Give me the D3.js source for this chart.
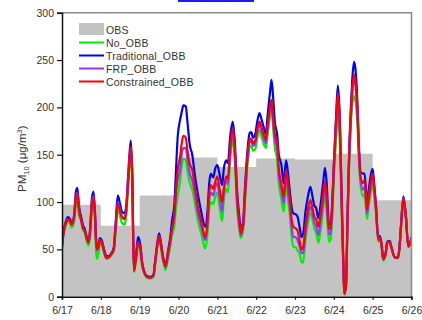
<!DOCTYPE html>
<html>
<head>
<meta charset="utf-8">
<script src="https://d3js.org/d3.v7.min.js"></script>
<style>
  html, body { margin: 0; padding: 0; background: #fff; }
  svg text { font-family: "Liberation Sans", Arial, sans-serif; fill: #333; }
</style>
</head>
<body>
<div id="chart"></div>
<script>
const width = 422;
const height = 320;

// day labels on the x axis, one per 24 h
const dayLabels = ['6/17','6/18','6/19','6/20','6/21','6/22','6/23','6/24','6/25','6/26'];
const yTicks = [0, 50, 100, 150, 200, 250, 300];

// daily observed PM10 (one value per day, step)
const obsDaily = [97, 75, 107, 147, 137, 146, 145, 151, 102];

// hours since 6/17 00:00 for the model series
const hours = [0,1,2.5,3.5,5,6,7.5,8.5,9.5,10.5,12,13,14,15.5,16.5,17.5,18.5,19.5,20.5,21,21.5,22.5,23.5,24.5,26,27.5,29,30.5,32,33,34.5,36,37,38.5,39.5,41,42.5,43.5,44,44.5,46,47,48.5,49.5,51,52.5,54.5,56.5,57.5,59,60,61,62.5,64,65.5,67,68,69.5,70.5,71.5,73,74,75,76.5,77.5,79,80.5,82,84,86,87.5,88.5,90,91,92,93.5,94.5,96,97.5,99,100,101.5,102.5,104,105.5,107,108,109.5,110.5,112,113,114.5,116,117,118,119.5,120.5,122,123.5,125,126,127,128.5,129.5,130.5,131.5,133,134,135.5,137,138.5,140,141,142,143,144.5,145.5,147,148,149,150.5,152,153.5,155,156,157,158.5,160,161.5,162.5,163.5,165,166,167,168,169.5,170.5,171.5,173,174,174.5,175.5,176.5,177.5,178.5,179.5,180.5,181.5,182.5,183.5,184.5,186,187,188.5,189.5,191,192,193,194,195.5,196.5,197.5,198.5,200,201,202.5,203.5,205.5,207.5,208.5,209.5,211,212.5,214,215,216];

const constrainedOBB = [52,68,78,82,80,76,84,103,108,92,80,72,70,60,57,72,98,104,82,60,50,52,60,58,48,41,42,45,50,70,98,90,84,82,88,125,158,120,60,27,45,58,50,35,25,21,20,22,35,55,64,56,40,32,45,60,72,88,115,134,148,162,170,168,155,140,134,118,95,80,68,63,82,110,118,114,120,127,112,100,114,127,124,160,178,150,110,80,67,76,105,145,166,167,162,165,175,185,178,170,166,180,200,208,190,172,162,135,120,106,134,115,100,80,74,72,70,58,50,52,75,92,102,92,84,82,74,90,110,122,108,72,72,95,137,190,215,190,90,25,3,12,85,150,192,222,235,225,200,155,127,120,123,92,105,123,130,115,95,60,62,55,40,45,58,58,53,42,41,50,74,104,85,53,55,62];

const traditionalOBB = [54,70,80,84,82,78,86,110,115,96,83,75,72,62,59,75,104,111,86,63,53,55,62,60,50,43,43,46,52,74,107,97,90,88,93,132,165,126,64,30,48,63,54,37,26,22,21,23,37,58,67,59,42,34,48,64,80,99,135,169,187,195,202,201,185,160,150,130,108,90,78,74,92,120,130,126,134,139,128,118,135,144,141,170,185,158,118,86,72,80,112,152,173,174,168,172,183,194,186,177,172,190,215,229,210,185,171,150,140,120,144,125,108,94,88,87,85,72,63,66,90,106,116,104,96,94,83,100,122,136,122,76,76,100,140,195,223,198,95,28,4,14,88,155,198,232,248,238,208,160,132,130,130,100,112,130,135,118,98,62,64,56,40,46,58,59,53,42,41,51,75,106,86,54,56,63];

const frpOBB = [52,68,78,82,79,76,84,104,110,92,79,72,70,60,57,72,99,106,82,60,49,52,60,58,48,41,42,45,50,70,100,90,85,83,88,126,158,120,60,28,45,58,50,35,25,21,20,22,35,55,64,56,40,31,44,59,70,86,108,123,134,150,157,157,145,130,123,110,88,75,64,60,76,103,110,107,114,120,104,90,110,122,119,154,172,145,106,77,65,74,102,142,163,164,159,162,172,182,174,166,162,176,196,203,185,166,156,128,114,99,127,106,92,72,63,63,60,52,46,46,68,85,95,86,78,75,65,82,102,114,100,66,66,90,132,182,210,186,88,24,3,12,84,148,188,218,230,220,196,150,122,113,116,88,100,118,125,110,92,60,62,54,39,45,57,58,52,42,41,50,74,104,85,53,55,62];

const noOBB = [55,66,76,80,77,73,80,96,100,86,80,70,68,57,54,68,92,97,76,50,40,45,57,55,46,40,41,44,48,66,92,84,78,76,82,118,150,112,55,26,42,55,47,33,24,20,19,21,33,53,62,53,37,28,40,55,65,76,95,106,123,138,146,144,133,120,113,100,80,67,56,51,68,93,100,98,104,110,94,80,102,114,110,146,165,138,100,72,62,71,98,137,158,159,154,156,166,176,168,160,157,170,190,197,178,158,144,120,104,90,116,98,83,62,53,52,49,44,37,36,60,78,88,80,72,68,57,72,94,106,92,58,60,84,125,170,192,170,80,22,2,10,80,142,180,205,212,205,185,145,118,106,108,82,95,112,120,105,90,58,60,53,38,44,57,57,52,42,41,50,73,103,84,53,55,62];

const series = [
  {name: 'No_OBB',          color: '#00ee00', values: noOBB},
  {name: 'Traditional_OBB', color: '#0000ff', values: traditionalOBB},
  {name: 'FRP_OBB',         color: '#9933ff', values: frpOBB},
  {name: 'Constrained_OBB', color: '#ff0000', values: constrainedOBB},
];

const margin = {left: 62, right: 10.5, top: 12.7, bottom: 23.3};

const x = d3.scaleLinear()
  .domain([0, 216])
  .range([margin.left, width - margin.right]);

const y = d3.scaleLinear()
  .domain([0, 300])
  .range([height - margin.bottom, margin.top]);

const svg = d3.select('#chart').append('svg')
  .attr('width', width)
  .attr('height', height);

// clipped bit of a link at the top of the source figure
svg.append('rect')
  .attr('x', 178).attr('y', 0)
  .attr('width', 76).attr('height', 2)
  .attr('fill', '#1a1aff');

svg.append('clipPath').attr('id', 'plot-clip')
  .append('rect')
  .attr('x', x(0)).attr('y', y(300))
  .attr('width', x(216) - x(0)).attr('height', y(0) - y(300));

const plot = svg.append('g').attr('clip-path', 'url(#plot-clip)');

// OBS as a daily step area
const obsPoints = obsDaily.map((v, i) => ({h: i * 24, v}))
  .concat([{h: 216, v: obsDaily[obsDaily.length - 1]}]);

const obsArea = d3.area()
  .curve(d3.curveStepAfter)
  .x(d => x(d.h))
  .y0(y(0))
  .y1(d => y(d.v));

plot.append('path')
  .datum(obsPoints)
  .attr('d', obsArea)
  .attr('fill', '#c3c3c3');

const line = d3.line()
  .curve(d3.curveMonotoneX)
  .x((d, i) => x(hours[i]))
  .y(d => y(d));

plot.selectAll('path.model')
  .data(series)
  .enter().append('path')
  .attr('class', 'model')
  .attr('d', d => line(d.values))
  .attr('fill', 'none')
  .attr('stroke', d => d.color)
  .attr('stroke-width', 2.2)
  .attr('stroke-linejoin', 'round');

// frame: grey on top/right, axes black
svg.append('path')
  .attr('d', `M${x(0)},${y(300)}H${x(216)}V${y(0)}`)
  .attr('fill', 'none')
  .attr('stroke', '#8a8a8a')
  .attr('stroke-width', 1.5);

const yAxis = svg.append('g')
  .attr('transform', `translate(${x(0)},0)`)
  .call(d3.axisLeft(y).tickValues(yTicks).tickSize(5).tickPadding(3));

const xAxis = svg.append('g')
  .attr('transform', `translate(0,${y(0)})`)
  .call(d3.axisBottom(x)
    .tickValues(dayLabels.map((d, i) => i * 24))
    .tickFormat((d, i) => dayLabels[i])
    .tickSize(3).tickPadding(7));

[yAxis, xAxis].forEach(ax => {
  ax.select('.domain').attr('stroke', '#111').attr('stroke-width', 1.5);
  ax.selectAll('.tick line').attr('stroke', '#111').attr('stroke-width', 1.2);
  ax.selectAll('.tick text')
    .attr('fill', '#333')
    .style('font-family', '"Liberation Sans", Arial, sans-serif')
    .style('font-size', '10.5px');
});

// y axis title
const yTitle = svg.append('text')
  .attr('transform', `translate(26,${(y(0) + y(300)) / 2 + 4}) rotate(-90)`)
  .attr('text-anchor', 'middle')
  .style('font-size', '11.5px');
yTitle.append('tspan').text('PM');
yTitle.append('tspan').attr('dy', 3).style('font-size', '7.5px').text('10');
yTitle.append('tspan').attr('dy', -3).text(' (μg/m');
yTitle.append('tspan').attr('dy', -4).style('font-size', '7.5px').text('3');
yTitle.append('tspan').attr('dy', 4).text(')');

// legend
const legend = svg.append('g').attr('transform', 'translate(79,29.5)');
const legendItems = [{name: 'OBS', color: '#c3c3c3', box: true}].concat(series);

const item = legend.selectAll('g')
  .data(legendItems)
  .enter().append('g')
  .attr('transform', (d, i) => `translate(0,${i * 13})`);

item.filter(d => d.box).append('rect')
  .attr('x', 0).attr('y', -6.5)
  .attr('width', 25).attr('height', 12)
  .attr('fill', d => d.color);

item.filter(d => !d.box).append('line')
  .attr('x1', 0).attr('x2', 25)
  .attr('stroke', d => d.color)
  .attr('stroke-width', 2);

item.append('text')
  .attr('x', 27).attr('y', 4)
  .style('font-size', '10.5px')
  .style('letter-spacing', '0.2px')
  .text(d => d.name);
</script>
</body>
</html>
